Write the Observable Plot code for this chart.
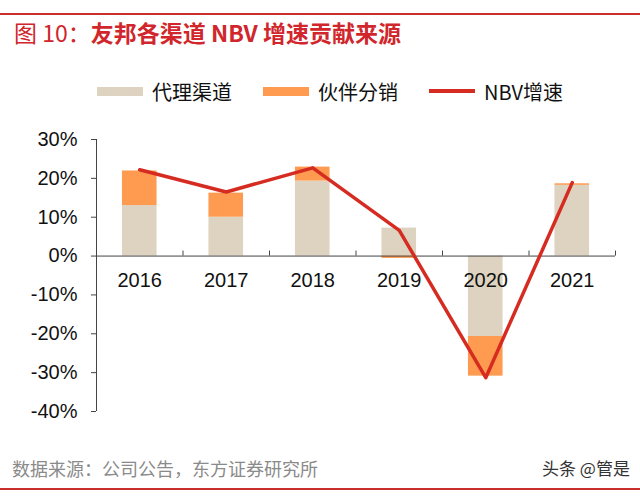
<!DOCTYPE html>
<html>
<head>
<meta charset="utf-8">
<script src="https://cdn.jsdelivr.net/npm/d3@7"></script>
<script src="https://cdn.jsdelivr.net/npm/@observablehq/plot@0.6"></script>
<style>
  html, body { margin: 0; padding: 0; background: #fff; }
  body { width: 640px; height: 496px; position: relative; overflow: hidden;
         font-family: "Liberation Sans", Arial, "Noto Sans CJK SC", sans-serif; }
  .rule { position: absolute; left: 0; width: 640px; background: #c9302c; }
  #title { position: absolute; left: 14px; top: 18px; font-size: 23px; color: #d0262c;
           font-family: "Noto Sans CJK SC", "Liberation Sans", sans-serif; line-height: 28px; white-space: nowrap; }
  #title b { font-weight: 700; }
  #title span { font-weight: 400; }
  #legend { position: absolute; left: 97px; top: 78px; height: 26px; display: flex; align-items: center;
            font-family: "Noto Sans CJK SC", sans-serif; font-size: 20px; color: #111; white-space: nowrap; }
  #legend .sw { width: 46px; margin-right: 9px; }
  #legend .item { display: flex; align-items: center; margin-right: 31px; }
  #chart { position: absolute; left: 0; top: 120px; }
  #source { position: absolute; left: 12px; top: 456px; font-size: 18px; color: #8a8a8a;
            font-family: "Noto Sans CJK SC", sans-serif; line-height: 24px; white-space: nowrap; }
  #mark { position: absolute; left: 542px; top: 456px; font-size: 17px; color: #333;
          font-family: "Noto Sans CJK SC", sans-serif; line-height: 24px; white-space: nowrap; }
</style>
</head>
<body>
<div class="rule" style="top:13px;height:2px;"></div>
<div id="title"><span>图 10：</span><b>友邦各渠道 NBV 增速贡献来源</b></div>
<div id="legend"></div>
<div id="chart"></div>
<div id="source">数据来源：公司公告，东方证券研究所</div>
<div id="mark">头条 @管是</div>
<div class="rule" style="top:488px;height:2px;"></div>
<script>
// ---- data ----
const years = [2016, 2017, 2018, 2019, 2020, 2021];
const agency = [0.130, 0.100, 0.193, 0.072, -0.207, 0.182];   // 代理渠道
const partner = [0.089, 0.062, 0.036, -0.006, -0.102, 0.004]; // 伙伴分销
const nbvGrowth = [0.222, 0.165, 0.227, 0.066, -0.313, 0.189]; // NBV增速
const yTicks = [0.3, 0.2, 0.1, 0, -0.1, -0.2, -0.3, -0.4];
const yTickLabels = ["30%", "20%", "10%", "0%", "-10%", "-20%", "-30%", "-40%"];
const seriesNames = ["代理渠道", "伙伴分销", "NBV增速"];
const colors = { agency: "#ddd3c0", partner: "#ff9b50", line: "#d62b20" };

// ---- build stacked rows ----
const half = 0.2;
const bars = [];
years.forEach((yr, i) => {
  bars.push({ year: yr, series: seriesNames[0], y1: 0, y2: agency[i] });
  const base = Math.sign(partner[i]) === Math.sign(agency[i]) ? agency[i] : 0;
  bars.push({ year: yr, series: seriesNames[1], y1: base, y2: base + partner[i] });
});
const linePts = years.map((yr, i) => ({ year: yr, v: nbvGrowth[i] }));
const boundaries = years.map(y => y + 0.5);

const chart = Plot.plot({
  width: 640,
  height: 312,
  marginLeft: 96,
  marginRight: 25,
  marginTop: 19,
  marginBottom: 21,
  style: { fontSize: "20px", fontFamily: "'Liberation Sans', Arial, sans-serif", color: "#111", background: "transparent", overflow: "visible" },
  x: { domain: [years[0] - 0.5, years[years.length - 1] + 0.5], axis: null },
  y: { domain: [-0.4, 0.3], axis: null },
  color: { domain: seriesNames.slice(0, 2), range: [colors.agency, colors.partner] },
  marks: [
    Plot.rectY(bars, { x1: d => d.year - half, x2: d => d.year + half, y1: "y1", y2: "y2", fill: "series" }),
    Plot.axisY({ ticks: yTicks, tickFormat: d => yTickLabels[yTicks.indexOf(d)], tickSize: 5, tickPadding: 14,
                 stroke: "#444", fill: "#111", fontSize: 20 }),
    Plot.ruleX([years[0] - 0.5], { y1: -0.4, y2: 0.3, stroke: "#444" }),
    Plot.ruleY([0], { stroke: "#444" }),
    Plot.ruleX(boundaries, { y1: 0, y2: 0, insetTop: -5, stroke: "#444" }),
    Plot.text(years, { x: d => d, y: 0, dy: 25, text: d => String(d), fontSize: 20, fill: "#111" }),
    Plot.line(linePts, { x: "year", y: "v", stroke: colors.line, strokeWidth: 3.5 })
  ]
});
document.getElementById("chart").appendChild(chart);

// ---- legend ----
const leg = document.getElementById("legend");
const legendItems = [
  { name: seriesNames[0], color: colors.agency, h: 9 },
  { name: seriesNames[1], color: colors.partner, h: 9 },
  { name: seriesNames[2], color: colors.line, h: 3.5 }
];
legendItems.forEach(it => {
  const d = document.createElement("div");
  d.className = "item";
  d.innerHTML = `<div class="sw" style="height:${it.h}px;background:${it.color}"></div><span>${it.name}</span>`;
  leg.appendChild(d);
});
</script>
</body>
</html>
